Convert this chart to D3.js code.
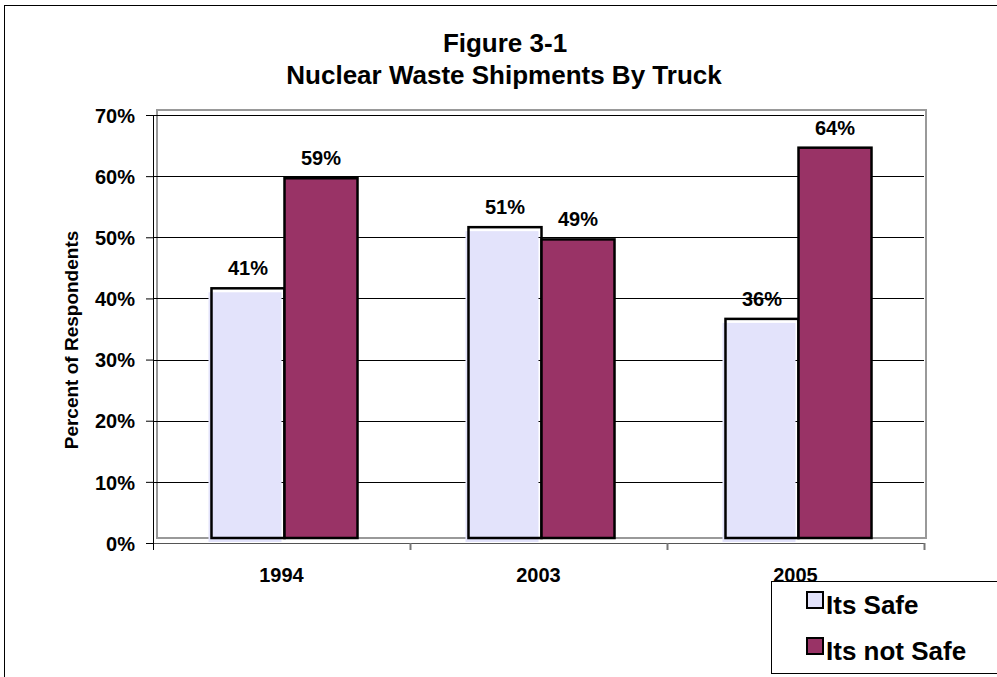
<!DOCTYPE html>
<html>
<head>
<meta charset="utf-8">
<script src="https://cdn.jsdelivr.net/npm/d3@7"></script>
<style>
  body { margin: 0; background: #fff; }
  svg { font-family: "Liberation Sans", Arial, sans-serif; font-weight: bold; }
</style>
</head>
<body>
<div id="chart"></div>
<script>
const years = ["1994", "2003", "2005"];
const series = ["Its Safe", "Its not Safe"];
const safe = [41, 51, 36];
const notSafe = [59, 49, 64];
const yTicks = [0, 10, 20, 30, 40, 50, 60, 70];

const width = 997;
const height = 677;
const colors = ["#e3e3fb", "#993366"];

const svg = d3.select("#chart").append("svg")
  .attr("width", width)
  .attr("height", height);

// outer frame
svg.append("rect")
  .attr("x", 4.5).attr("y", 5.5)
  .attr("width", 1100).attr("height", 1000)
  .style("fill", "none").style("stroke", "#000");

const plotLeft = 153, plotRight = 924, plotTop = 115, plotBottom = 543;
const barBase = 538; // excel draws the bars lifted a little off the axis
const lift = 4;

const x = d3.scaleBand().domain(years).range([plotLeft, plotRight]);
const xInner = d3.scaleBand().domain(series).range([0, x.bandwidth()]).paddingOuter(0.76);
const y = d3.scaleLinear().domain([0, 70]).range([plotBottom, plotTop]);

// plot area frame (gray)
svg.append("rect")
  .attr("x", 157).attr("y", 110)
  .attr("width", plotRight + 2 - 157).attr("height", barBase - 110)
  .style("fill", "none").style("stroke", "#999").style("stroke-width", 2);

// gridlines
svg.append("g")
  .selectAll("line")
  .data(yTicks.filter((d) => d > 0))
  .enter()
  .append("line")
  .attr("x1", plotLeft).attr("x2", plotRight)
  .attr("y1", (d) => Math.round(y(d)) + 0.5)
  .attr("y2", (d) => Math.round(y(d)) + 0.5)
  .style("stroke", "#000");

// y axis
const yAxis = d3.axisLeft(y).tickValues(yTicks).tickSize(7).tickFormat((d) => d + "%");
const gy = svg.append("g")
  .attr("transform", "translate(" + plotLeft + ",0)")
  .call(yAxis);
gy.select(".domain").remove();
gy.append("line")
  .attr("x1", 0.5).attr("x2", 0.5)
  .attr("y1", plotTop).attr("y2", plotBottom + 7)
  .style("stroke", "#000");
gy.selectAll(".tick line").style("stroke", "#000");
gy.selectAll(".tick text")
  .attr("x", -18)
  .attr("dy", "0.36em")
  .style("font-size", "20px")
  .style("font-weight", "bold")
  .style("font-family", "'Liberation Sans', Arial, sans-serif")
  .style("fill", "#000");

// x axis
const gx = svg.append("g")
  .attr("transform", "translate(0," + plotBottom + ")");
gx.append("line")
  .attr("x1", plotLeft).attr("x2", plotRight)
  .attr("y1", 0.5).attr("y2", 0.5)
  .style("stroke", "#555");
gx.selectAll(".xt")
  .data(years.map((d) => x(d)).concat([plotRight]))
  .enter()
  .append("line")
  .attr("x1", (d) => d + 0.5).attr("x2", (d) => d + 0.5)
  .attr("y1", 0).attr("y2", 7)
  .style("stroke", (d, i) => (i === 0 ? "#000" : "#777"))
  .style("stroke-width", (d, i) => (i === 0 ? 1 : 2));
gx.selectAll(".xl")
  .data(years)
  .enter()
  .append("text")
  .attr("x", (d) => x(d) + x.bandwidth() / 2)
  .attr("y", 39)
  .attr("text-anchor", "middle")
  .style("font-size", "20px")
  .text((d) => d);

// bars
const rows = [];
years.forEach((yr, i) => {
  rows.push({ year: yr, s: 0, v: safe[i] });
  rows.push({ year: yr, s: 1, v: notSafe[i] });
});

const bx = (d) => x(d.year) + xInner(series[d.s]) + 3;
const by = (d) => y(d.v) - lift;

const bars = svg.append("g")
  .selectAll("g")
  .data(rows)
  .enter()
  .append("g");

// fill, shifted down-left for the light series like the original
bars.append("rect")
  .attr("x", (d) => (d.s === 0 ? bx(d) - 3 : bx(d)))
  .attr("y", (d) => (d.s === 0 ? by(d) + 4 : by(d)))
  .attr("width", xInner.bandwidth())
  .attr("height", (d) => barBase - by(d))
  .style("fill", (d) => colors[d.s]);

bars.append("rect")
  .attr("x", bx)
  .attr("y", by)
  .attr("width", xInner.bandwidth())
  .attr("height", (d) => barBase - by(d))
  .style("fill", "none")
  .style("stroke", "#000")
  .style("stroke-width", 2.5);

svg.append("g")
  .selectAll("text")
  .data(rows)
  .enter()
  .append("text")
  .attr("x", (d) => bx(d) + xInner.bandwidth() / 2)
  .attr("y", (d) => by(d) - 13)
  .attr("text-anchor", "middle")
  .style("font-size", "20px")
  .text((d) => d.v + "%");

// titles
svg.append("text")
  .attr("x", 505).attr("y", 52)
  .attr("text-anchor", "middle")
  .style("font-size", "26px")
  .text("Figure 3-1");
svg.append("text")
  .attr("x", 504).attr("y", 84)
  .attr("text-anchor", "middle")
  .style("font-size", "26px")
  .text("Nuclear Waste Shipments By Truck");

svg.append("text")
  .attr("transform", "translate(78,340) rotate(-90)")
  .attr("text-anchor", "middle")
  .style("font-size", "19px")
  .text("Percent of Respondents");

// legend
const lg = svg.append("g");
lg.append("rect")
  .attr("x", 771.5).attr("y", 581.5)
  .attr("width", 300).attr("height", 92)
  .style("fill", "#fff").style("stroke", "#000");
series.forEach((s, i) => {
  const ly = 592 + i * 46;
  lg.append("rect")
    .attr("x", 807).attr("y", ly)
    .attr("width", 16).attr("height", 16)
    .style("fill", colors[i]).style("stroke", "#000").style("stroke-width", 2);
  lg.append("text")
    .attr("x", 826).attr("y", ly + 22)
    .style("font-size", "26px")
    .text(s);
});
</script>
</body>
</html>
